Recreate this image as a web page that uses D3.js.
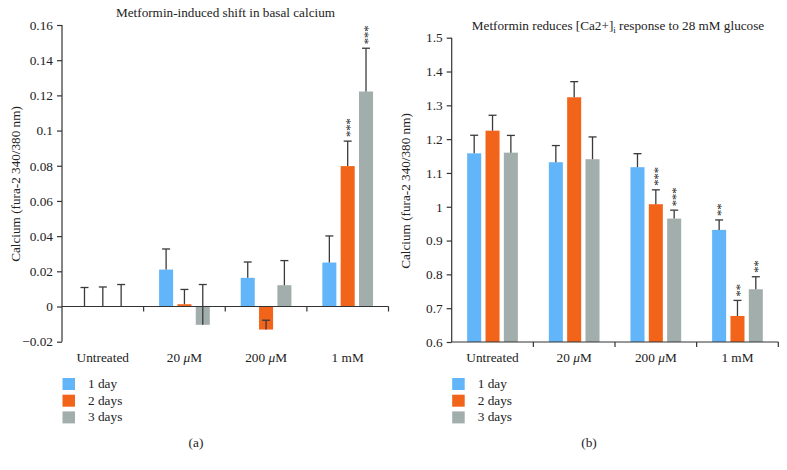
<!DOCTYPE html>
<html><head><meta charset="utf-8">
<script src="https://cdn.jsdelivr.net/npm/d3@7"></script>
<style>
body{margin:0;background:#fff;}
svg text{font-family:"Liberation Serif","Times New Roman",serif;fill:#222;}
</style></head>
<body><svg id="c" width="787" height="470"></svg>
<script>
const categories = ["Untreated","20 \u03bcM","200 \u03bcM","1 mM"];
const series = ["1 day","2 days","3 days"];
const colors = ["#62B5F9","#F26419","#A2AEAC"];

// Panel (a)
const aValues = [[0,0.021,0.0163,0.025],[0,0.0013,-0.0131,0.0798],[0,-0.0104,0.0121,0.1222]];
const aErrCap = [[0.0108,0.0327,0.0253,0.0401],[0.0111,0.0097,-0.0078,0.094],[0.0125,0.0125,0.0261,0.1468]];
const aStars = [["","","",""],["","","","***"],["","","","***"]];
const aTicks = [0.16,0.14,0.12,0.1,0.08,0.06,0.04,0.02,0,-0.02];
const aTickLabels = ["0.16","0.14","0.12","0.1","0.08","0.06","0.04","0.02","0","\u22120.02"];

// Panel (b)
const bValues = [[1.158,1.1317,1.117,0.9316],[1.225,1.3238,1.0075,0.677],[1.160,1.1406,0.965,0.756]];
const bErrCap = [[1.2115,1.181,1.157,0.961],[1.2706,1.37,1.05,0.723],[1.211,1.2065,0.99,0.793]];
const bStars = [["","","","**"],["","","***","**"],["","","***","**"]];
const bTicks = [1.5,1.4,1.3,1.2,1.1,1.0,0.9,0.8,0.7,0.6];
const bTickLabels = ["1.5","1.4","1.3","1.2","1.1","1","0.9","0.8","0.7","0.6"];

const svg = d3.select("#c");

function panel(o){
  const g = svg.append("g");
  const x0 = d3.scaleBand().domain(categories).range([o.left,o.right]).padding(0);
  const x1 = d3.scaleBand().domain(series).range([0,x0.bandwidth()]).paddingInner(0.235).paddingOuter(0.844);
  const y = d3.scaleLinear().domain(o.domain).range([o.bottom,o.top]);

  // y axis
  const ya = d3.axisLeft(y).tickValues(o.ticks).tickSize(5).tickPadding(4)
    .tickFormat((d,i)=>o.tickLabels[i]);
  const yg = g.append("g").attr("transform",`translate(${o.left},0)`).call(ya);
  yg.select(".domain").attr("stroke","#333").attr("stroke-width",1.2).attr("d",`M0,${o.top}V${o.bottom}`);
  yg.selectAll(".tick line").attr("stroke","#333").attr("stroke-width",1.2);
  yg.selectAll(".tick text").attr("font-size",13.3).attr("fill","#222")
    .attr("font-family","Liberation Serif, serif");

  // bars
  series.forEach((s,si)=>{
    categories.forEach((c,ci)=>{
      const v = o.values[si][ci];
      const bx = x0(c)+x1(s);
      const y0 = y(o.base), yv = y(v);
      if (v !== o.base) {
        g.append("rect").attr("x",bx).attr("width",x1.bandwidth())
          .attr("y",Math.min(y0,yv)).attr("height",Math.abs(y0-yv))
          .attr("fill",colors[si]);
      }
      const cx = bx + x1.bandwidth()/2;
      const yc = y(o.err[si][ci]);
      g.append("line").attr("x1",cx).attr("x2",cx).attr("y1",yv).attr("y2",yc)
        .attr("stroke","#3a3a3a").attr("stroke-width",1.3);
      g.append("line").attr("x1",cx-4).attr("x2",cx+4).attr("y1",yc).attr("y2",yc)
        .attr("stroke","#3a3a3a").attr("stroke-width",1.3);
      const st = o.stars[si][ci];
      if (st) {
        const top = Math.min(yc, yv);
        g.append("text").attr("transform",`translate(${cx},${top-4}) rotate(-90)`)
          .attr("dy","0.5em").attr("font-size",12.5).attr("fill","#777").text(st);
      }
    });
  });

  // x axis
  const xy = y(o.base);
  g.append("line").attr("x1",o.left).attr("x2",o.right).attr("y1",xy).attr("y2",xy)
    .attr("stroke","#333").attr("stroke-width",1.2);
  categories.forEach(c=>{
    const tx = x0(c)+x0.bandwidth();
    g.append("line").attr("x1",tx).attr("x2",tx).attr("y1",xy).attr("y2",xy+5)
      .attr("stroke","#333").attr("stroke-width",1.2);
    const t = g.append("text").attr("x",x0(c)+x0.bandwidth()/2).attr("y",362)
      .attr("text-anchor","middle").attr("font-size",13.3);
    const parts = c.split("\u03bc");
    t.append("tspan").text(parts[0]);
    if (parts.length > 1) {
      t.append("tspan").attr("font-style","italic").text("\u03bc");
      t.append("tspan").text(parts[1]);
    }
  });

  // y label
  g.append("text").attr("transform",`translate(${o.ylabX},${o.ylabY}) rotate(-90)`)
    .attr("text-anchor","middle").attr("dy","0.35em").attr("font-size",13.2)
    .text("Calcium (fura-2 340/380 nm)");

  // title
  const t = g.append("text").attr("x",o.titleX).attr("y",o.titleY).attr("text-anchor","middle").attr("font-size",13.2);
  o.title.forEach(p=>{
    const ts = t.append("tspan").text(p.t);
    if (p.sub) ts.attr("font-size",9).attr("baseline-shift","-35%");
  });

  // legend
  series.forEach((s,si)=>{
    g.append("rect").attr("x",o.left+0.5).attr("y",378+si*16.7).attr("width",12.5).attr("height",12)
      .attr("fill",colors[si]);
    g.append("text").attr("x",o.left+26).attr("y",388+si*16.7).attr("font-size",13.3).text(s);
  });

  g.append("text").attr("x",o.panelX).attr("y",447).attr("text-anchor","middle").attr("font-size",13.3).text(o.panel);
}

panel({left:62,right:388.5,top:25,bottom:341.7,domain:[-0.02,0.16],base:0,
  ticks:aTicks,tickLabels:aTickLabels,values:aValues,err:aErrCap,stars:aStars,
  ylabX:15,ylabY:184,titleX:225.5,titleY:17,
  title:[{t:"Metformin-induced shift in basal calcium"}],panelX:196,panel:"(a)"});

panel({left:451.7,right:778.3,top:37.7,bottom:342,domain:[0.6,1.5],base:0.6,
  ticks:bTicks,tickLabels:bTickLabels,values:bValues,err:bErrCap,stars:bStars,
  ylabX:405,ylabY:191,titleX:618,titleY:30,
  title:[{t:"Metformin reduces [Ca2+]"},{t:"i",sub:true},{t:" response to 28 mM glucose"}],panelX:589,panel:"(b)"});
</script></body></html>
